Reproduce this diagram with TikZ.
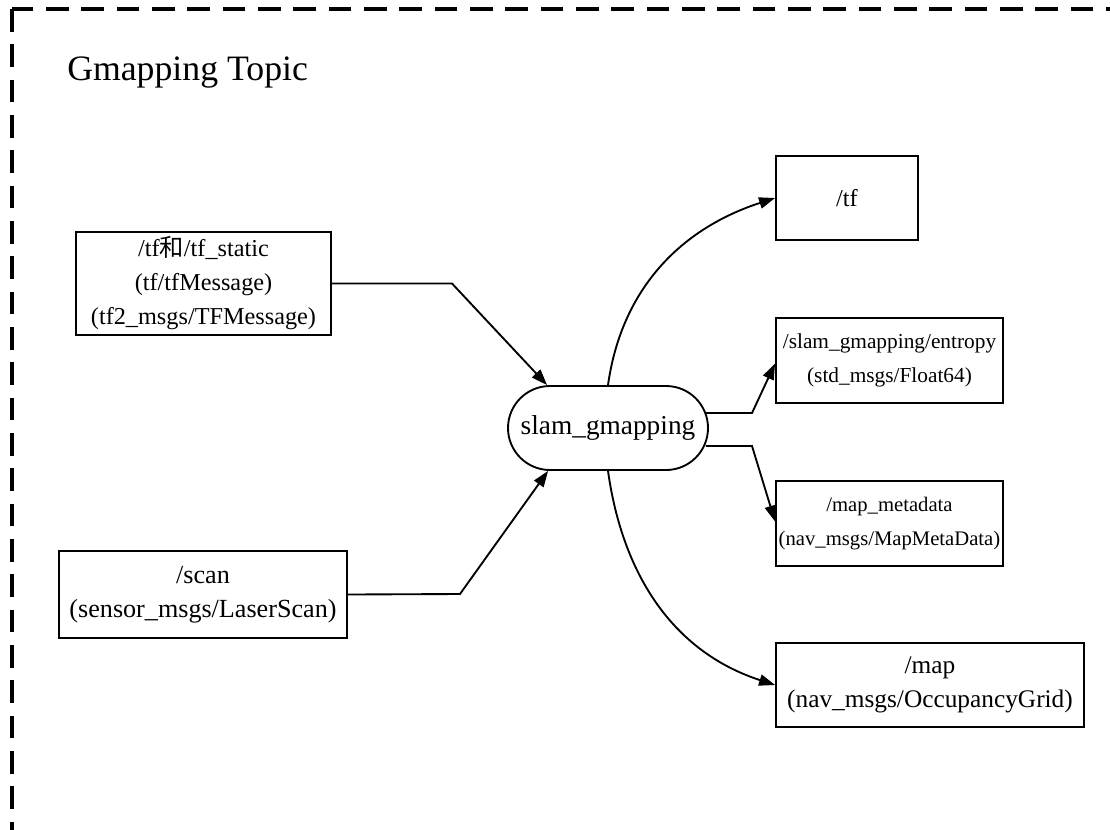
\documentclass[tikz,border=0pt]{standalone}
\usepackage{fontspec}
\setmainfont{Liberation Serif}
\newfontfamily\cjk{Noto Sans CJK SC}
\usetikzlibrary{arrows.meta,calc}
\begin{document}
\begin{tikzpicture}[x=0.75pt,y=-0.75pt,
  lw/.style={line width=1.4pt},
  topicbox/.style={draw,lw,rectangle,inner sep=0pt,align=center},
  nodebox/.style={draw,lw,rectangle,rounded corners=31.5pt,inner sep=0pt,align=center,font=\fontsize{20.5}{25}\selectfont},
  arr/.style={lw,-{Triangle[length=12pt,width=8.5pt]}},
  frame/.style={line width=2.3pt,dash pattern=on 17pt off 9.5pt}
]
\useasboundingbox (0,0) rectangle (1110,829);
\clip (0,0) rectangle (1110,829);
\draw[frame] (12,9) rectangle (1125,850);
\node[anchor=base west,font=\fontsize{26.8}{30}\selectfont,inner sep=0pt] (title) at (67,80) {Gmapping Topic};

\node[topicbox,font=\fontsize{18.2}{25.5}\selectfont,minimum width=191.25pt,minimum height=77.25pt] (tfs) at (203.5,283.5)
  {/tf{\cjk 和}/tf\_static\\(tf/tfMessage)\\(tf2\_msgs/TFMessage)};
\node[topicbox,font=\fontsize{19.6}{25.5}\selectfont,minimum width=216pt,minimum height=65.25pt] (scan) at (203,594.5)
  {/scan\\(sensor\_msgs/LaserScan)};
\node[nodebox,minimum width=150pt,minimum height=63pt] (slam) at (608,428) {slam\_gmapping};
\node[topicbox,font=\fontsize{18.2}{25.5}\selectfont,minimum width=106.5pt,minimum height=63pt] (tf) at (847,198) {/tf};
\node[topicbox,font=\fontsize{16}{25.5}\selectfont,minimum width=170.25pt,minimum height=63.75pt] (ent) at (889.5,360.5)
  {/slam\_gmapping/entropy\\(std\_msgs/Float64)};
\node[topicbox,font=\fontsize{15.5}{25.5}\selectfont,minimum width=170.25pt,minimum height=63.75pt] (meta) at (889.5,523.5)
  {/map\_metadata\\(nav\_msgs/MapMetaData)};
\node[topicbox,font=\fontsize{19}{25.5}\selectfont,minimum width=231pt,minimum height=63pt] (map) at (930,685)
  {/map\\(nav\_msgs/OccupancyGrid)};

\coordinate (tin) at ($(slam.north west)+(40,0)$);
\coordinate (sin) at ($(slam.south west)+(41,0)$);
\coordinate (eout) at ($(slam.east)+(-3,-15)$);
\coordinate (mout) at ($(slam.east)+(-3,18)$);

\draw[arr] (tfs.east) -- (452,283.5) -- (tin);
\draw[arr] (scan.east) -- (460,594) -- (sin);
\draw[arr] (slam.north) to[out=82,in=198] (tf.west);
\draw[arr] (slam.south) to[out=-82,in=162] (map.west);
\draw[arr] (eout) -- (752,413) -- ($(ent.west)+(0,3)$);
\draw[arr] (mout) -- (752,446) -- ($(meta.west)+(0,-2)$);
\end{tikzpicture}
\end{document}
